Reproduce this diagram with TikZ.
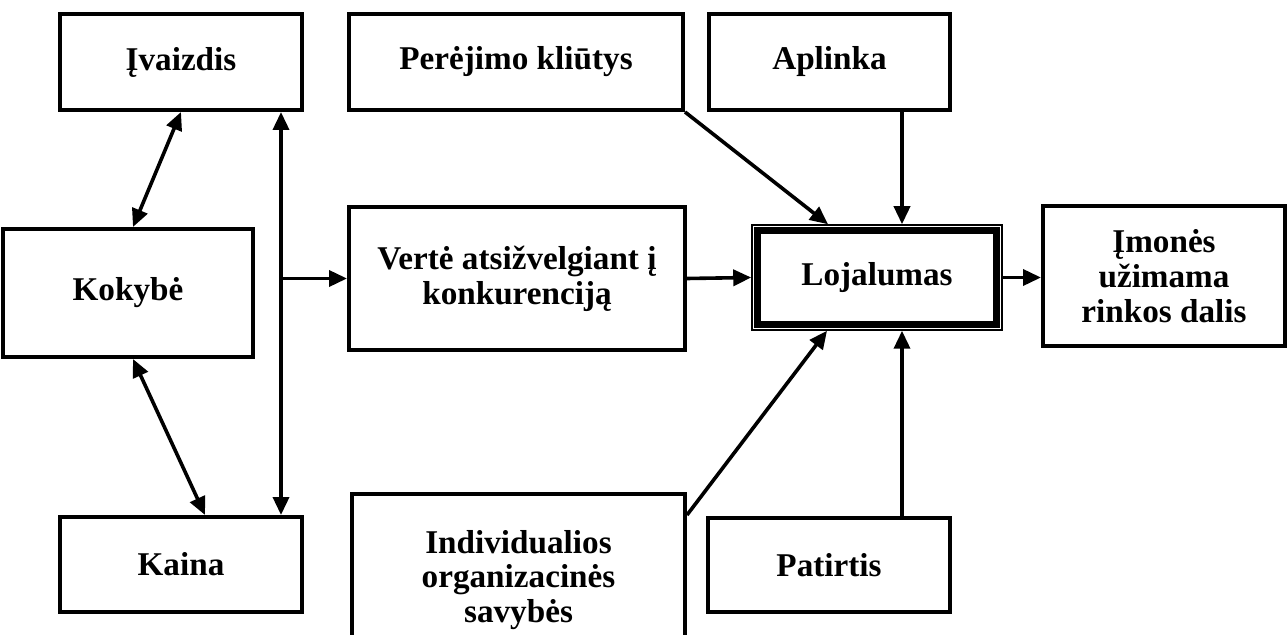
\documentclass[tikz,border=0pt]{standalone}
\usepackage{fontspec}
\setmainfont{Liberation Serif}
\usetikzlibrary{arrows.meta,calc}

\begin{document}
\begin{tikzpicture}[x=0.5pt,y=-0.5pt,
  box/.style={draw, line width=2pt, inner sep=0pt, align=center,
    font=\fontsize{16.6}{17.4}\selectfont\bfseries},
  link/.style={line width=1.8pt, -{Triangle[length=9pt,width=8pt]}},
  bilink/.style={line width=1.8pt, {Triangle[length=9pt,width=8pt]}-{Triangle[length=9pt,width=8pt]}}]
  \useasboundingbox (0,0) rectangle (1288,635);

  % boxes
  \node[box, minimum width=121pt, minimum height=48pt] (ivaizdis) at (181,62) {Įvaizdis};
  \node[box, minimum width=167pt, minimum height=48pt] (perejimo) at (516,62) {Perėjimo kliūtys};
  \node[box, minimum width=120.5pt, minimum height=48pt] (aplinka) at (829.5,62) {Aplinka};
  \node[box, minimum width=125pt, minimum height=64pt] (kokybe) at (128,293) {Kokybė};
  \node[box, minimum width=168pt, minimum height=71.5pt] (verte) at (517,278.5) {Vertė atsižvelgiant į\\konkurenciją};
  \node[box, line width=0.75pt, minimum width=125pt, minimum height=52.5pt] (loj) at (877,277.5) {Lojalumas};
  \draw[line width=3.6pt] ($(loj.south west)+(6.5,-6.5)$) rectangle ($(loj.north east)+(-6.5,6.5)$);
  \node[box, minimum width=121pt, minimum height=70pt] (imones) at (1164,276) {Įmonės\\užimama\\rinkos dalis};
  \node[box, minimum width=121pt, minimum height=47.5pt] (kaina) at (181,564.5) {Kaina};
  \node[box, minimum width=166.5pt, minimum height=86pt] (individ) at (518.5,580) {Individualios\\organizacinės\\savybės};
  \node[box, minimum width=121pt, minimum height=47pt] (patirtis) at (829,565) {Patirtis};

  % helper points on the borders
  \coordinate (spinetop) at ($(ivaizdis.south east)+(-23,0)$);
  \coordinate (spinebot) at ($(kaina.north east)+(-23,0)$);
  \coordinate (ljtopA) at ($(loj.north)+(-49,0)$);
  \coordinate (ljtopB) at ($(loj.north)+(25,0)$);
  \coordinate (ljbotA) at ($(loj.south)+(-50,0)$);
  \coordinate (ljbotB) at ($(loj.south)+(25,0)$);
  \coordinate (indout) at ($(individ.north east)+(0,23)$);

  % connectors
  \draw[bilink] (ivaizdis.south) -- ($(kokybe.north)+(5,0)$);
  \draw[bilink] ($(kokybe.south)+(5,0)$) -- ($(kaina.north)+(24,0)$);
  \draw[bilink] (spinetop) -- (spinebot);
  \draw[link] (verte.west -| spinetop) -- (verte.west);
  \draw[link] (verte.east) -- (loj.west);
  \draw[link] (perejimo.south east) -- (ljtopA);
  \draw[link] (aplinka.south -| ljtopB) -- (ljtopB);
  \draw[link] (indout) -- (ljbotA);
  \draw[link] (patirtis.north -| ljbotB) -- (ljbotB);
  \draw[link] (loj.east) -- (loj.east -| imones.west);
\end{tikzpicture}
\end{document}
